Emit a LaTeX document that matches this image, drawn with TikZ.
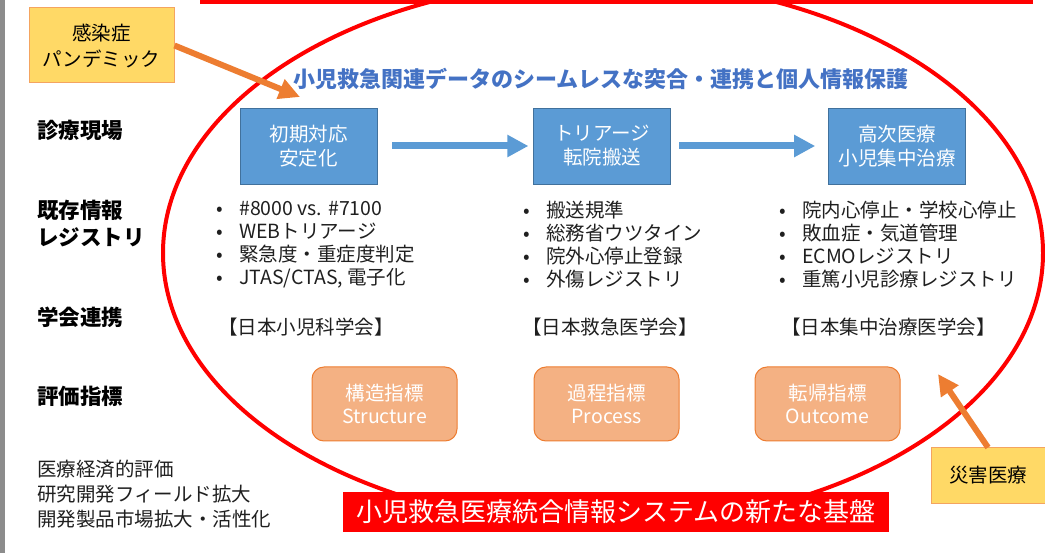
\documentclass[tikz,border=0pt]{standalone}
\usepackage{fontspec}
\setmainfont{Noto Sans CJK JP}
\usetikzlibrary{positioning,arrows.meta}
\definecolor{stageblue}{HTML}{5B9BD5}
\definecolor{stageedge}{HTML}{41719C}
\definecolor{metricfill}{HTML}{F4B183}
\definecolor{metricedge}{HTML}{ED7D31}
\definecolor{topicfill}{HTML}{FFD966}
\definecolor{topicedge}{HTML}{F4A460}
\definecolor{pushorange}{HTML}{ED7D31}
\definecolor{titleblue}{HTML}{4472C4}
\definecolor{alarmred}{HTML}{FF0000}
\newcommand{\blt}[1]{\makebox[23pt][l]{•}#1}

\begin{document}
\begin{tikzpicture}[x=1pt, y=-1pt,
    stage/.style={rectangle, draw=stageedge, line width=0.8pt, fill=stageblue, text=white,
      minimum width=137pt, minimum height=76pt, align=center, font=\fontsize{19.5}{24}\selectfont},
    metric/.style={rectangle, rounded corners=12pt, draw=metricedge, line width=1pt, fill=metricfill,
      text=white, minimum width=145pt, minimum height=74pt, align=center, font=\fontsize{19.5}{23}\selectfont},
    topic/.style={rectangle, draw=topicedge, line width=1pt, fill=topicfill, align=center,
      font=\fontsize{19.5}{26}\selectfont},
    rowlabel/.style={anchor=west, align=left, inner sep=0pt, font=\bfseries\fontsize{21.5}{27}\selectfont},
    bullets/.style={anchor=west, align=left, inner sep=0pt, text=black!88, font=\fontsize{19.5}{23}\selectfont},
    society/.style={inner sep=0pt, text=black!88, font=\fontsize{19.5}{23}\selectfont},
    flow/.style={-{Triangle[length=21pt,width=21pt]}, line width=7pt, draw=stageblue},
    push/.style={-{Triangle[length=21pt,width=20pt]}, line width=6pt, draw=pushorange},
  ]
        \useasboundingbox (0,0) rectangle (1045,553);
        \clip (0,0) rectangle (1045,553);

        % FRAME
        % -----------------

        \fill[gray!90] (0,0) rectangle (5,553);
        \fill[alarmred] (200,-5) rectangle (1033,4);
        \draw[alarmred, line width=4pt] (603,253) ellipse [x radius=440, y radius=273];

        % NODES
        % -----------------

        \node[topic, minimum width=145pt, minimum height=75pt] (pandemic) at (101.5,45.5) {感染症\\パンデミック};
        \node[topic, minimum width=114pt, minimum height=55pt] (disaster) at (988,475.5) {災害医療};

        \node[font=\bfseries\fontsize{22}{26}\selectfont, text=titleblue] (title) at (601,79)
          {小児救急関連データのシームレスな突合・連携と個人情報保護};

        % row labels
        \node[rowlabel] (lab_site) at (37,130) {診療現場};
        \node[rowlabel] (lab_reg)  at (37,223.5) {既存情報\\レジストリ};
        \node[rowlabel] (lab_soc)  at (37,317) {学会連携};
        \node[rowlabel] (lab_eval) at (37,396) {評価指標};
        \node[anchor=west, align=left, inner sep=0pt, text=black!88, font=\fontsize{19.5}{25}\selectfont]
          (lab_econ) at (37,494) {医療経済的評価\\研究開発フィールド拡大\\開発製品市場拡大・活性化};

        % stages
        \node[stage] (init) at (308.5,146) {初期対応\\安定化};
        \node[stage, right=156pt of init] (triage) {トリアージ\\転院搬送};
        \node[stage, right=157pt of triage] (intensive) {高次医療\\小児集中治療};

        % registries
        \node[bullets] (reg_init) at (216,244.5)
          {\blt{\#8000 vs. \#7100}\\\blt{WEBトリアージ}\\\blt{緊急度・重症度判定}\\\blt{JTAS/CTAS, 電子化}};
        \node[bullets] (reg_triage) at (523,244.5)
          {\blt{搬送規準}\\\blt{総務省ウツタイン}\\\blt{院外心停止登録}\\\blt{外傷レジストリ}};
        \node[bullets] (reg_intensive) at (779,244.5)
          {\blt{院内心停止・学校心停止}\\\blt{敗血症・気道管理}\\\blt{ECMOレジストリ}\\\blt{重篤小児診療レジストリ}};

        % societies
        \node[society] (soc_ped)  at (306,327) {【日本小児科学会】};
        \node[society] (soc_emer) at (610,327) {【日本救急医学会】};
        \node[society] (soc_icu)  at (888.5,327) {【日本集中治療医学会】};

        % metrics
        \node[metric] (structure) at (384.5,404) {構造指標\\Structure};
        \node[metric, right=76pt of structure] (process) {過程指標\\Process};
        \node[metric, right=75pt of process] (outcome) {転帰指標\\Outcome};

        \node[fill=alarmred, text=white, minimum width=546pt, minimum height=40pt, inner sep=0pt,
          font=\fontsize{26}{30}\selectfont] (banner) at (616,512) {小児救急医療統合情報システムの新たな基盤};

        \coordinate (pan_tip) at (300,97);
        \coordinate (dis_tip) at (938,374);

        % EDGES
        % -----------------

        \draw[flow, shorten <=15pt, shorten >=5pt] (init) -- (triage);
        \draw[flow, shorten <=8pt, shorten >=13pt] (triage) -- (intensive);
        \draw[push] (pandemic.east) -- (pan_tip);
        \draw[push] (disaster.north) -- (dis_tip);

\end{tikzpicture}
\end{document}
